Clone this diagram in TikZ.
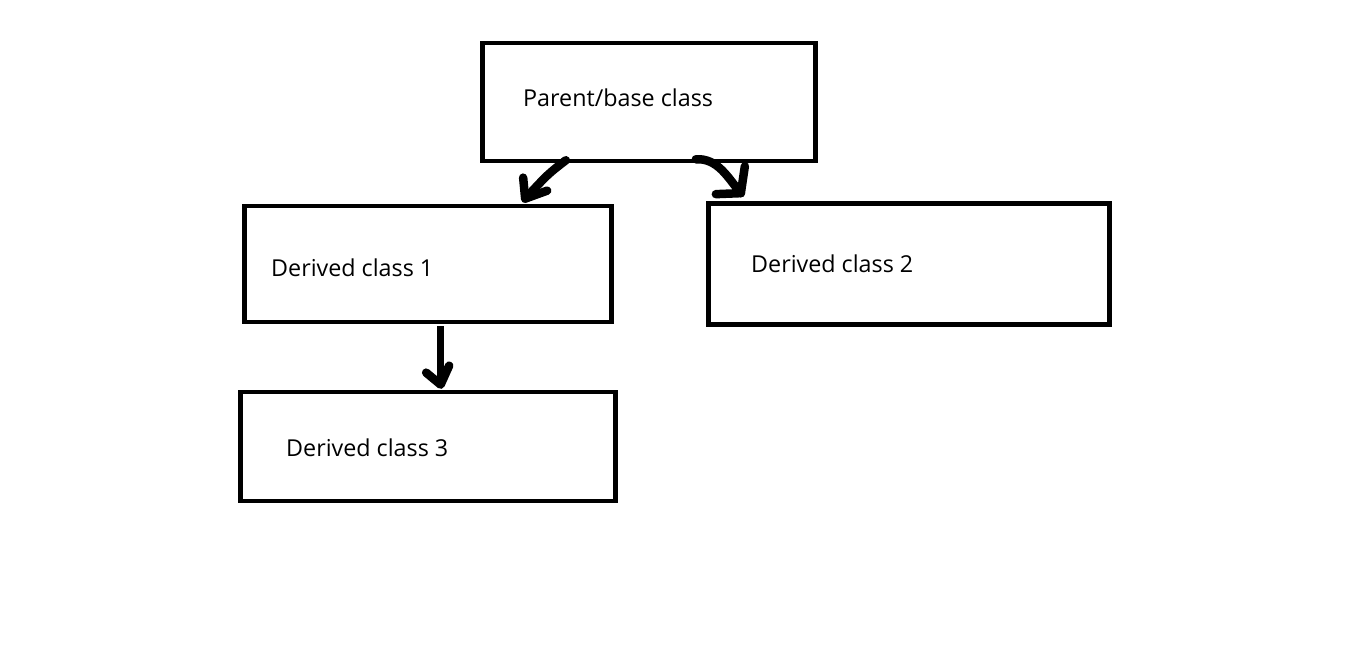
\documentclass[tikz,border=0pt]{standalone}
\usepackage{fontspec}
\setmainfont{Open Sans}
\usetikzlibrary{calc}
\begin{document}
\begin{tikzpicture}[x=1pt,y=-1pt,
  box/.style={draw=black, line width=4.7pt, inner sep=0pt},
  lbl/.style={anchor=base west, inner sep=0pt, font=\fontsize{23.3}{27}\selectfont},
  hand/.style={draw=black, line width=8.5pt, line cap=round, line join=round}]
\useasboundingbox[fill=white] (0,0) rectangle (1360,653);
% boxes
\node[box, minimum width=333pt, minimum height=118pt] (parent) at (649.2,101.9) {};
\node[box, minimum width=367pt, minimum height=116pt] (d1) at (428,264) {};
\node[box, minimum width=401pt, minimum height=121pt] (d2) at (908.7,264) {};
\node[box, minimum width=375pt, minimum height=109pt] (d3) at (428,446.5) {};
% labels
\node[lbl] (tparent) at (523,106) {Parent/base class};
\node[lbl] (td1) at (271,276) {Derived class 1};
\node[lbl] (td2) at (751,272) {Derived class 2};
\node[lbl] (td3) at (286,456) {Derived class 3};
% arrow 1 : parent -> d1
\coordinate (a1s) at ($(parent.south west)+(85.5,-3)$);
\coordinate (a1t) at ($(d1.north west)+(283,-5)$);
\coordinate (a1b1) at ($(d1.north west)+(281,-26)$);
\coordinate (a1b2) at ($(d1.north west)+(305,-13)$);
\draw[hand] (a1s) .. controls (548,174) .. (a1t);
\draw[hand] (a1b1) -- (a1t) -- (a1b2);
% arrow 2 : parent -> d2
\coordinate (a2s) at ($(parent.south west)+(215.5,-4)$);
\coordinate (a2t) at ($(d2.north west)+(35,-8)$);
\coordinate (a2b1) at ($(d2.north west)+(39,-35)$);
\coordinate (a2b2) at ($(d2.north west)+(10,-7)$);
\draw[hand] (a2s) .. controls (718,158) and (728,178) .. (a2t);
\draw[hand] (a2b1) -- (a2t) -- (a2b2);
% arrow 3 : d1 -> d3
\coordinate (a3s) at ($(d1.south west)+(198.5,2)$);
\coordinate (a3t) at ($(d3.north west)+(202.5,-5)$);
\coordinate (a3b1) at ($(d3.north west)+(188,-17)$);
\coordinate (a3b2) at ($(d3.north west)+(211,-24)$);
\draw[black, line width=7pt] (a3s) -- (a3t);
\draw[hand] (a3b1) -- (a3t) -- (a3b2);
\end{tikzpicture}
\end{document}
